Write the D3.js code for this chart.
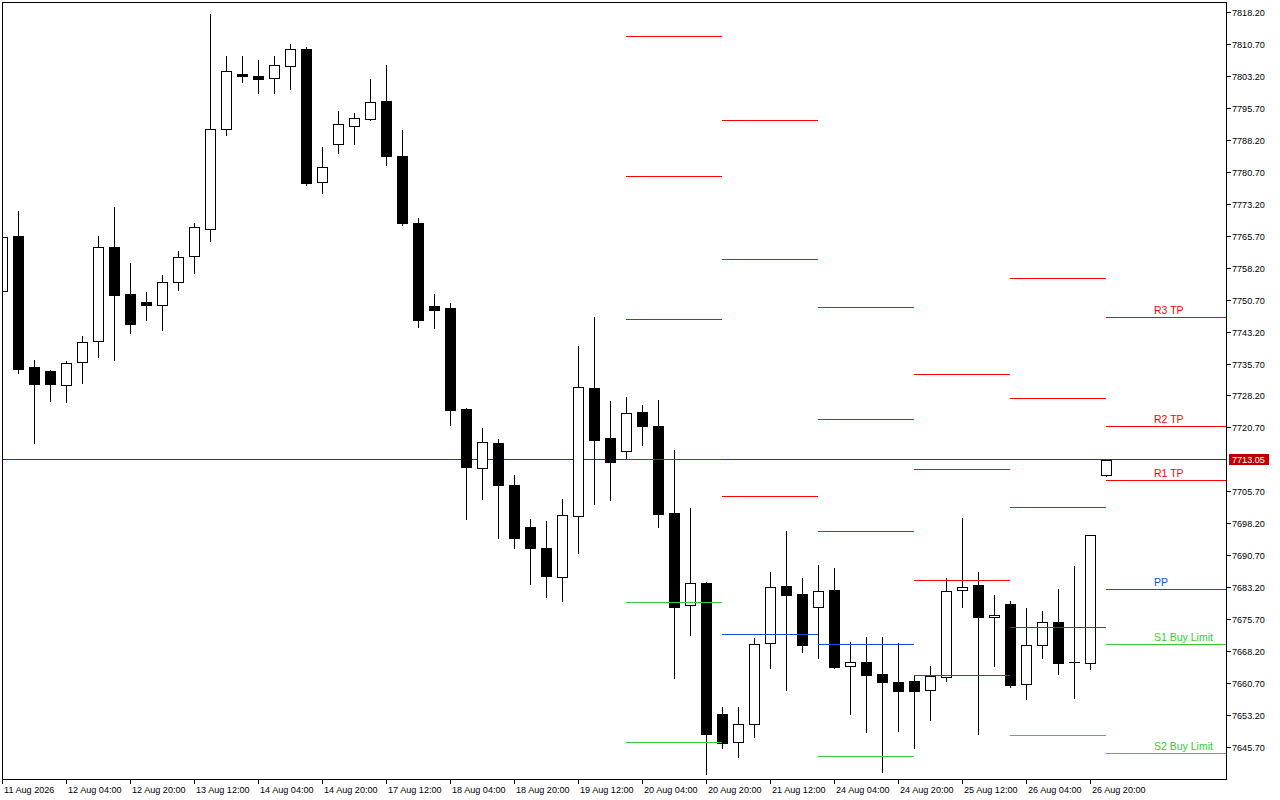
<!DOCTYPE html>
<html><head><meta charset="utf-8">
<script src="https://cdn.jsdelivr.net/npm/d3@7"></script>
<style>html,body{margin:0;padding:0;background:#fff;overflow:hidden}</style>
</head><body>
<svg id="c" width="1280" height="800"></svg>
<script>
// ---- data (H4 bars, 11 Aug 12:00 .. 27 Aug 00:00) ----
const open  = [7752.67,7765.59,7734.82,7733.95,7730.59,7735.99,7740.92,7763.00,7751.96,7750.08,7749.38,7754.78,7760.89,7767.23,7790.72,7803.71,7803.17,7802.70,7805.52,7809.51,7778.41,7787.34,7791.56,7793.21,7797.37,7784.45,7768.71,7749.22,7748.75,7725.02,7711.24,7717.04,7707.17,7697.31,7692.37,7685.49,7699.82,7729.89,7718.14,7715.09,7724.25,7721.03,7700.60,7678.92,7684.16,7653.38,7646.74,7650.97,7669.99,7683.38,7681.50,7678.45,7682.51,7664.59,7665.53,7662.78,7660.90,7661.14,7658.95,7662.00,7682.44,7683.61,7676.10,7679.15,7660.36,7669.52,7674.92,7665.53,7665.29,7709.52];
const high  = [7765.35,7771.53,7736.53,7734.18,7736.30,7742.17,7765.66,7772.47,7759.32,7752.50,7756.50,7762.13,7768.71,7817.80,7807.94,7807.94,7807.00,7807.94,7810.75,7810.05,7786.56,7795.02,7794.55,7802.53,7805.82,7790.55,7769.89,7752.03,7749.92,7725.26,7720.56,7717.98,7709.52,7699.19,7698.72,7703.88,7739.82,7746.63,7726.90,7727.84,7725.96,7727.14,7715.39,7701.77,7684.30,7655.03,7655.03,7671.24,7686.74,7696.37,7685.33,7688.38,7687.68,7670.30,7671.47,7671.47,7669.99,7662.43,7664.66,7685.33,7699.42,7686.74,7681.34,7679.93,7678.28,7677.58,7682.74,7688.15,7695.36,7713.05];
const low   = [7752.67,7733.41,7716.97,7726.97,7726.74,7731.06,7737.31,7736.60,7742.94,7746.00,7743.65,7753.04,7757.04,7764.55,7789.45,7801.90,7799.32,7799.32,7800.26,7777.71,7775.83,7785.15,7787.27,7792.90,7782.40,7768.24,7744.28,7744.05,7721.27,7699.19,7703.88,7694.72,7692.37,7683.99,7680.94,7680.00,7691.27,7702.78,7703.72,7713.21,7716.64,7697.38,7661.91,7672.01,7639.36,7645.47,7643.36,7648.05,7664.26,7659.09,7668.02,7666.61,7664.26,7653.45,7649.23,7639.83,7649.46,7645.47,7652.05,7661.21,7678.59,7648.76,7664.73,7659.80,7656.98,7666.61,7662.85,7657.21,7664.03,7709.21];
const close = [7765.35,7734.35,7730.82,7730.82,7735.76,7740.69,7763.00,7751.73,7744.92,7749.38,7754.78,7760.65,7767.70,7790.72,7804.34,7803.31,7802.46,7805.75,7809.51,7778.18,7781.79,7791.89,7793.30,7797.06,7784.52,7768.71,7745.93,7748.35,7724.79,7711.40,7717.20,7707.17,7694.72,7692.44,7685.87,7700.06,7730.12,7717.81,7712.64,7724.01,7721.10,7700.43,7678.59,7684.08,7648.76,7646.64,7650.97,7669.76,7683.14,7681.41,7669.66,7682.20,7664.49,7665.53,7662.62,7660.97,7658.86,7658.86,7662.31,7682.20,7683.29,7676.10,7676.57,7660.27,7669.52,7674.92,7665.43,7665.53,7695.36,7713.05];

const timeLabels = ["11 Aug 2026","12 Aug 04:00","12 Aug 20:00","13 Aug 12:00","14 Aug 04:00","14 Aug 20:00","17 Aug 12:00","18 Aug 04:00","18 Aug 20:00","19 Aug 12:00","20 Aug 04:00","20 Aug 20:00","21 Aug 12:00","24 Aug 04:00","24 Aug 20:00","25 Aug 12:00","26 Aug 04:00","26 Aug 20:00"];
const barsPerTimeLabel = 4;

const priceTickLabels = ["7818.20","7810.70","7803.20","7795.70","7788.20","7780.70","7773.20","7765.70","7758.20","7750.70","7743.20","7735.70","7728.20","7720.70","7713.20","7705.70","7698.20","7690.70","7683.20","7675.70","7668.20","7660.70","7653.20","7645.70"];

const currentPrice = 7713.05;

// daily pivot levels: first bar index of each day
const pivotDayStart = [39, 45, 51, 57, 63, 69];
const pivotR3 = [7812.56, 7792.83, 7748.91, 7733.17, 7755.72, 7746.56];
const pivotR2 = [7779.68, 7760.18, 7722.60, 7710.70, 7727.54, 7720.96];
const pivotR1 = [7746.09, 7704.52, 7696.30, 7684.79, 7701.93, 7708.28];
const pivotPP = [7713.21, 7672.10, 7669.76, 7662.47, 7673.75, 7682.67];
const pivotS1 = [7679.62, null,    7643.45, null,    7648.38, 7669.76];
const pivotS2 = [7646.74, null,    null,    null,    null,    7644.15];
const levelNames = ["R3 TP","R2 TP","R1 TP","PP","S1 Buy Limit","S2 Buy Limit"];

// ---- drawing ----
const RED="#ff0000", BLUE="#0d50d2", GREEN="#32cd32", BID="#c00000";
const levelSeries = [pivotR3,pivotR2,pivotR1,pivotPP,pivotS1,pivotS2];
const levelColors = [RED,RED,RED,BLUE,GREEN,GREEN];

const L=2, R=1226, T=2, B=779;
const x = d3.scaleLinear().domain([0, 1]).range([2, 18]);          // bar index -> column
const y = d3.scaleLinear().domain([7645.7, 7818.2]).range([746.7, 12.3]);

const svg = d3.select("#c");
svg.append("rect").attr("width",1280).attr("height",800).attr("fill","#fff");
svg.append("defs").append("clipPath").attr("id","clip")
  .append("rect").attr("x",L+1).attr("y",T+1).attr("width",R-L-1).attr("height",B-T-1);
const g = svg.append("g").attr("clip-path","url(#clip)");

// bid line
const yBid = Math.floor(y(currentPrice)) + 0.5;
g.append("line").attr("x1",L).attr("x2",R).attr("y1",yBid).attr("y2",yBid)
  .attr("stroke",BID).attr("stroke-width",1);

// candles
const bars = d3.range(open.length).map(i => ({i, o:open[i], h:high[i], l:low[i], c:close[i]}));
const cg = g.append("g");
const cand = cg.selectAll("g.c").data(bars).join("g").attr("class","c");
cand.append("line")
  .attr("x1", d => x(d.i)+0.5).attr("x2", d => x(d.i)+0.5)
  .attr("y1", d => Math.round(y(d.h))).attr("y2", d => Math.round(y(d.l))+1)
  .attr("stroke","#000").attr("stroke-width",1);
cand.each(function(d){
  const s = d3.select(this), cx = x(d.i);
  const yo = Math.round(y(d.o)), yc = Math.round(y(d.c));
  if (yo === yc) {
    s.append("rect").attr("x",cx-5).attr("y",yo).attr("width",11).attr("height",1).attr("fill","#000");
  } else if (d.c > d.o) {
    s.append("rect").attr("x",cx-4.5).attr("y",yc+0.5).attr("width",10).attr("height",yo-yc)
      .attr("fill","#fff").attr("stroke","#000").attr("stroke-width",1);
  } else {
    s.append("rect").attr("x",cx-5).attr("y",yo).attr("width",11).attr("height",yc-yo+1).attr("fill","#000");
  }
});

// pivot lines
const pg = g.append("g");
levelSeries.forEach((series, k) => {
  series.forEach((v, d) => {
    if (v === null) return;
    const x1 = x(pivotDayStart[d]);
    const x2 = d < pivotDayStart.length-1 ? x(pivotDayStart[d+1]) : R;
    const yy = Math.floor(y(v)) + 0.5;
    pg.append("line").attr("x1",x1).attr("x2",x2).attr("y1",yy).attr("y2",yy)
      .attr("stroke",levelColors[k]).attr("stroke-width",1);
  });
});
// labels for the current day
const last = pivotDayStart.length-1;
levelSeries.forEach((series, k) => {
  const v = series[last];
  if (v === null) return;
  svg.append("text").attr("x",1154).attr("y",Math.floor(y(v)) - 3)
    .attr("fill",levelColors[k]).attr("font-family","Liberation Sans, Arial, sans-serif")
    .attr("font-size","10.5px").text(levelNames[k]);
});

// frame
svg.append("rect").attr("x",L+0.5).attr("y",T+0.5).attr("width",R-L).attr("height",B-T)
  .attr("fill","none").attr("stroke","#000").attr("stroke-width",1);

// price axis
const fontAxis = "Liberation Sans, Arial, sans-serif";
priceTickLabels.forEach(lbl => {
  const v = +lbl, yy = Math.round(y(v));
  if (Math.abs(yy - y(currentPrice)) < 9) return;
  svg.append("line").attr("x1",R+1).attr("x2",R+5).attr("y1",yy+0.5).attr("y2",yy+0.5).attr("stroke","#000");
  svg.append("text").attr("x",R+6).attr("y",yy+3.6).attr("font-family",fontAxis)
    .attr("font-size","9.1px").attr("fill","#000").text(lbl);
});
// bid label
const yb = Math.floor(y(currentPrice));
svg.append("rect").attr("x",R+3).attr("y",yb-5).attr("width",40).attr("height",11).attr("fill",BID);
svg.append("text").attr("x",R+6).attr("y",yb+3.6).attr("font-family",fontAxis)
  .attr("font-size","9.1px").attr("fill","#fff").text(currentPrice.toFixed(2));

// time axis
timeLabels.forEach((lbl, k) => {
  const xx = x(k*barsPerTimeLabel);
  svg.append("line").attr("x1",xx+0.5).attr("x2",xx+0.5).attr("y1",B).attr("y2",B+5).attr("stroke","#000");
  svg.append("text").attr("x",xx+2).attr("y",793).attr("font-family",fontAxis)
    .attr("font-size","9.1px").attr("fill","#000").text(lbl);
});
</script>
</body></html>
